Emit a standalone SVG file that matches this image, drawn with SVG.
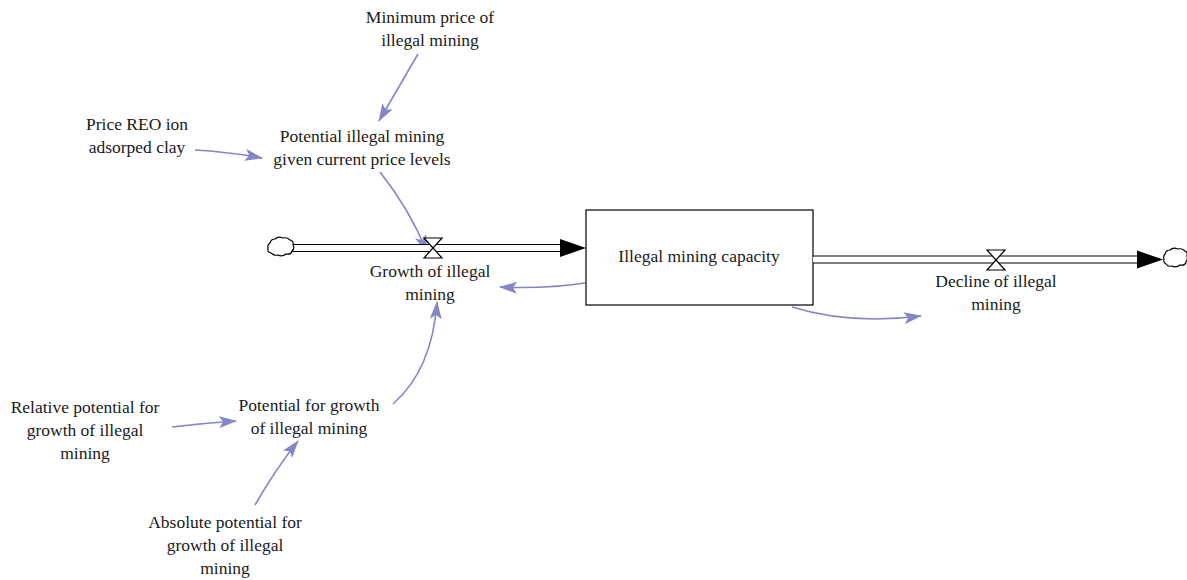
<svg xmlns="http://www.w3.org/2000/svg" width="1187" height="580" viewBox="0 0 1187 580">
<defs>
<style>
text{font-size:17.5px;fill:#1a1a1a;text-anchor:middle}
.lk{fill:none;stroke:#8585c8;stroke-width:1.6}
.po{fill:none;stroke:#000;stroke-width:1.2}
.cl{fill:#fff;stroke:#000;stroke-width:1.2}
</style>
<marker id="ah" markerWidth="18" markerHeight="12" refX="17" refY="6" orient="auto" markerUnits="userSpaceOnUse">
<path d="M0,0 L18,6 L0,12 L4,6 Z" fill="#8585c8"/>
</marker>
</defs>
<g id="connectors">
<path class="lk" d="M418,54 L379,121" marker-end="url(#ah)"/>
<path class="lk" d="M195,150 Q230,152 262,158" marker-end="url(#ah)"/>
<path class="lk" d="M380,172 Q410,210 427,252" marker-end="url(#ah)"/>
<path class="lk" d="M585,283 Q545,289 500,287" marker-end="url(#ah)"/>
<path class="lk" d="M792,307 Q850,325 921,316" marker-end="url(#ah)"/>
<path class="lk" d="M393,404 Q432,370 437,302" marker-end="url(#ah)"/>
<path class="lk" d="M172,427 Q205,423 236,421" marker-end="url(#ah)"/>
<path class="lk" d="M255,505 Q275,470 298,441" marker-end="url(#ah)"/>
</g>
<g font-family="'Liberation Serif', 'Times New Roman', 'DejaVu Serif', serif">
<g id="flow-growth">
<path d="M292,248 H566" stroke="#fff" stroke-width="5.8" fill="none"/>
<path class="po" d="M292,244.5 H566 M292,251.5 H566"/>
<path d="M560,239 L586,248 L560,257 Z" fill="#000"/>
<path class="cl" d="M270,243 q1,-4 5,-4 q3,-3 8,-1 q4,-1 7,2 q4,1 3,5 q2,3 -1,6 q-1,4 -6,3 q-4,3 -8,1 q-4,1 -7,-2 q-4,-1 -3,-5 q-1,-3 2,-5 Z"/>
<path d="M424,238 H442 L424,258 H442 Z" fill="#fff" stroke="#000" stroke-width="1.2"/>
<text x="430" y="277">Growth of illegal</text>
<text x="430" y="300">mining</text>
</g>
<g id="stock">
<rect x="586" y="210" width="227" height="95" fill="#fff" stroke="#000" stroke-width="1.2"/>
<text x="699" y="262">Illegal mining capacity</text>
</g>
<g id="flow-decline">
<path d="M813,259.5 H1142" stroke="#fff" stroke-width="5.8" fill="none"/>
<path class="po" d="M813,256 H1142 M813,263 H1142"/>
<path d="M1137,250.5 L1163,259.5 L1137,268.5 Z" fill="#000"/>
<path class="cl" d="M1165,254 q1,-4 5,-4 q3,-3 8,-1 q4,-1 7,2 q3,1 2,5 q1,3 -1,6 q-1,4 -6,3 q-4,3 -8,1 q-4,1 -6,-2 q-3,-1 -2,-5 q-1,-3 1,-5 Z"/>
<path d="M987,250 H1005 L987,270 H1005 Z" fill="#fff" stroke="#000" stroke-width="1.2"/>
<text x="996" y="287">Decline of illegal</text>
<text x="996" y="310">mining</text>
</g>
<g id="min-price">
<text x="430" y="23">Minimum price of</text>
<text x="430" y="46">illegal mining</text>
</g>
<g id="price-reo">
<text x="137" y="130">Price REO ion</text>
<text x="137" y="153">adsorped clay</text>
</g>
<g id="potential-illegal">
<text x="362" y="142">Potential illegal mining</text>
<text x="362" y="165">given current price levels</text>
</g>
<g id="potential-growth">
<text x="309" y="411">Potential for growth</text>
<text x="309" y="434">of illegal mining</text>
</g>
<g id="relative-potential">
<text x="85" y="413">Relative potential for</text>
<text x="85" y="436">growth of illegal</text>
<text x="85" y="459">mining</text>
</g>
<g id="absolute-potential">
<text x="225" y="528">Absolute potential for</text>
<text x="225" y="551">growth of illegal</text>
<text x="225" y="574">mining</text>
</g>
</g>
</svg>
